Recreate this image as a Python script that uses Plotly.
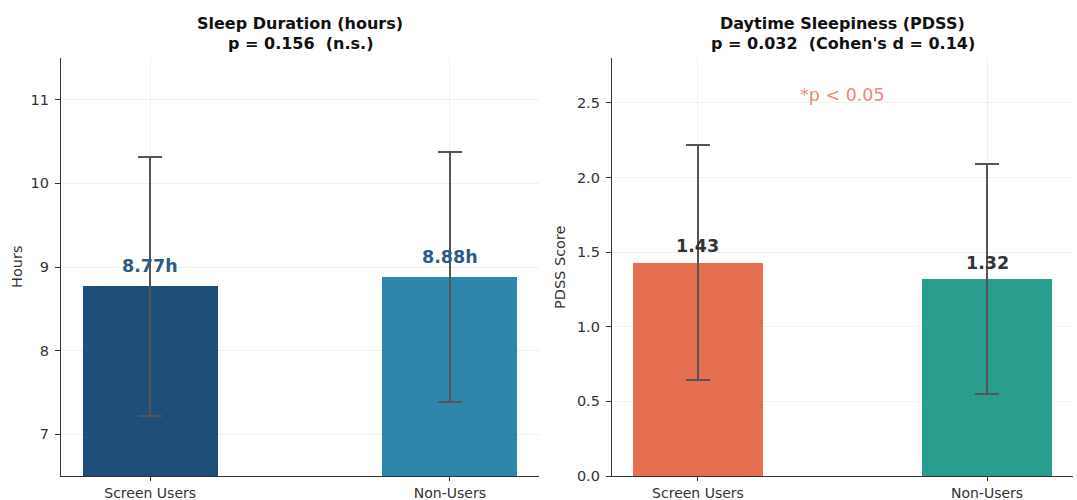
import plotly.graph_objects as go

groups = ["Screen Users", "Non-Users"]
sleep_mean = [8.77, 8.88]
sleep_sd = [1.55, 1.49]
pdss_mean = [1.43, 1.32]
pdss_sd = [0.79, 0.77]
sleep_labels = ["8.77h", "8.88h"]
pdss_labels = ["1.43", "1.32"]
sleep_colors = ["#1f4e79", "#2e86ab"]
pdss_colors = ["#e76f51", "#2a9d8f"]
title_lines = [["Sleep Duration (hours)", "p = 0.156  (n.s.)"],
               ["Daytime Sleepiness (PDSS)", "p = 0.032  (Cohen's d = 0.14)"]]
y_titles = ["Hours", "PDSS Score"]

W, H = 1077, 500
FONT = "DejaVu Sans"
xpos = [0, 1]

fig = go.Figure()

fig.add_trace(go.Bar(
    x=xpos, y=sleep_mean, width=0.45, marker=dict(color=sleep_colors, line=dict(width=0)),
    error_y=dict(type="data", array=sleep_sd, color="#555555", thickness=2, width=12),
    xaxis="x", yaxis="y", showlegend=False))
fig.add_trace(go.Bar(
    x=xpos, y=pdss_mean, width=0.45, marker=dict(color=pdss_colors, line=dict(width=0)),
    error_y=dict(type="data", array=pdss_sd, color="#555555", thickness=2, width=12),
    xaxis="x2", yaxis="y2", showlegend=False))

ydom = [24 / H, 442 / H]
TF = dict(family=FONT, size=14.5, color="#333333")
XTF = dict(family=FONT, size=14, color="#333333")
common = dict(showline=True, linecolor="#333333", linewidth=1.3, ticks="outside",
              tickcolor="#333333", showgrid=True, gridcolor="rgba(0,0,0,0.06)", gridwidth=1,
              zeroline=False, automargin=False)
xcommon = dict(ticklen=4, tickfont=XTF, ticklabelstandoff=0, range=[-0.2975, 1.2975],
               tickvals=xpos, ticktext=groups, **common)
ycommon = dict(ticklen=5, tickfont=TF, ticklabelstandoff=3, **common)

fig.update_layout(
    width=W, height=H, margin=dict(l=0, r=0, t=0, b=0, autoexpand=False),
    paper_bgcolor="white", plot_bgcolor="white",
    font=dict(family=FONT, color="#333333"),
    bargap=0,
    xaxis=dict(domain=[61 / W, 539 / W], anchor="y", **xcommon),
    yaxis=dict(domain=ydom, range=[6.5, 11.5], tickvals=[7, 8, 9, 10, 11], anchor="x", **ycommon),
    xaxis2=dict(domain=[612 / W, 1073 / W], anchor="y2", **xcommon),
    yaxis2=dict(domain=ydom, range=[0, 2.8], tickvals=[0, 0.5, 1.0, 1.5, 2.0, 2.5],
                ticktext=["0.0", "0.5", "1.0", "1.5", "2.0", "2.5"], anchor="x2", **ycommon),
)

# axis titles
for xp, txt in zip([17, 560], y_titles):
    fig.add_annotation(x=xp / W, y=(ydom[0] + ydom[1]) / 2, xref="paper", yref="paper", text=txt,
                       showarrow=False, textangle=-90, xanchor="center", yanchor="middle", font=TF)

# value labels
for i in range(2):
    fig.add_annotation(x=xpos[i], y=sleep_mean[i] + 0.24, xref="x", yref="y", text="<b>%s</b>" % sleep_labels[i],
                       showarrow=False, yanchor="middle", font=dict(family=FONT, size=17.5, color="#2d5b86"))
    fig.add_annotation(x=xpos[i], y=pdss_mean[i] + 0.11, xref="x2", yref="y2", text="<b>%s</b>" % pdss_labels[i],
                       showarrow=False, yanchor="middle", font=dict(family=FONT, size=17.5, color="#333333"))

fig.add_annotation(x=0.5, y=(pdss_mean[0] + pdss_sd[0]) * 1.15, xref="x2", yref="y2", text="*p < 0.05",
                   showarrow=False, yanchor="middle", font=dict(family=FONT, size=17.5, color="#ee8a75"))

# titles
centers = [(61 + 539) / 2 / W, (612 + 1073) / 2 / W]
for c, lines in zip(centers, title_lines):
    for ly, txt in zip([23, 44], lines):
        fig.add_annotation(x=c, y=1 - ly / H, xref="paper", yref="paper", text="<b>%s</b>" % txt,
                           showarrow=False, xanchor="center", yanchor="middle",
                           font=dict(family=FONT, size=16, color="#111111"))

fig.write_html("out.html")
